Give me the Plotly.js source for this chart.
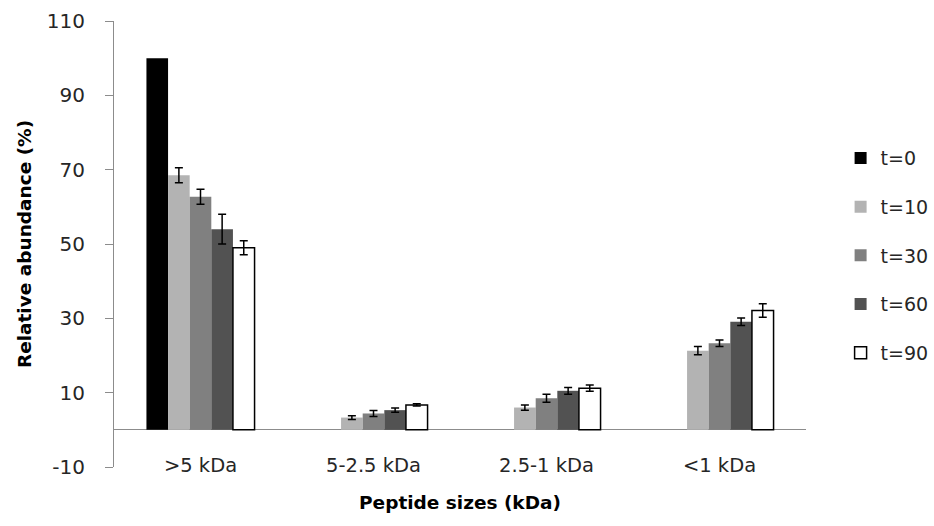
<!DOCTYPE html>
<html>
<head>
<meta charset="utf-8">
<script src="https://cdn.plot.ly/plotly-3.0.1.min.js"></script>
<style>
  html, body { margin: 0; padding: 0; background: #fff; }
  #chart { width: 934px; height: 526px; }
</style>
</head>
<body>
<div id="chart"></div>
<script>
// Peptide size classes on the category axis
const categories = ['>5 kDa', '5-2.5 kDa', '2.5-1 kDa', '<1 kDa'];

// Relative abundance (%) at each hydrolysis time, with error values
const t0  = [100, 0, 0, 0];
const t10 = [68.5, 3.3, 6.0, 21.3];
const t30 = [62.7, 4.4, 8.5, 23.3];
const t60 = [54.0, 5.3, 10.5, 29.1];
const t90 = [49.0, 6.7, 11.2, 32.1];

const t10Err = [2.0, 0.5, 0.7, 1.1];
const t30Err = [2.0, 0.8, 1.1, 0.9];
const t60Err = [4.0, 0.6, 0.9, 1.0];
const t90Err = [1.9, 0.3, 0.85, 1.8];

const seriesNames = ['t=0', 't=10', 't=30', 't=60', 't=90'];

// Value-axis ticks, written with a plain hyphen for the negative one
const yTickVals = [-10, 10, 30, 50, 70, 90, 110];
const yTickText = ['-10', '10', '30', '50', '70', '90', '110'];

const FONT = '"DejaVu Sans", Verdana, sans-serif';
const AXIS_GRAY = '#8c8c8c';
const TEXT = '#262626';

function errBar(arr) {
  return { type: 'data', array: arr, visible: true, color: '#000', thickness: 1.5, width: 4 };
}

const traces = [
  { y: t0,  name: seriesNames[0], marker: { color: '#000000', line: { width: 0 } } },
  { y: t10, name: seriesNames[1], marker: { color: '#b3b3b3', line: { width: 0 } }, error_y: errBar(t10Err) },
  { y: t30, name: seriesNames[2], marker: { color: '#808080', line: { width: 0 } }, error_y: errBar(t30Err) },
  { y: t60, name: seriesNames[3], marker: { color: '#525252', line: { width: 0 } }, error_y: errBar(t60Err) },
  { y: t90, name: seriesNames[4], marker: { color: '#ffffff', line: { width: 1.5, color: '#000' } }, error_y: errBar(t90Err) }
].map((t, i) => Object.assign({
  type: 'bar',
  x: categories,
  legendgroup: 'g' + i,
  hoverinfo: 'skip'
}, t));

const layout = {
  width: 934,
  height: 526,
  paper_bgcolor: '#ffffff',
  plot_bgcolor: '#ffffff',
  font: { family: FONT, color: TEXT, size: 18 },
  margin: { l: 114, r: 128, t: 21, b: 59, autoexpand: false },
  barmode: 'group',
  bargap: 0.375,
  bargroupgap: 0,
  showlegend: true,
  legend: {
    x: 1.05,
    xanchor: 'left',
    y: 0.474,
    yanchor: 'middle',
    traceorder: 'grouped',
    tracegroupgap: 21,
    font: { family: FONT, size: 19, color: TEXT },
    bgcolor: 'rgba(0,0,0,0)'
  },
  xaxis: {
    type: 'category',
    anchor: 'free',
    position: 0.034,
    showline: false,
    ticks: '',
    showgrid: false,
    zeroline: false,
    tickfont: { family: FONT, size: 19.5, color: TEXT },
    title: {
      text: '<b>Peptide sizes (kDa)</b>',
      font: { family: FONT, size: 18.5, color: '#000' },
      standoff: 19
    }
  },
  yaxis: {
    range: [-10, 110],
    tickmode: 'array',
    tickvals: yTickVals,
    ticktext: yTickText,
    showline: true,
    linecolor: AXIS_GRAY,
    linewidth: 1,
    ticks: 'outside',
    ticklen: 8,
    tickcolor: AXIS_GRAY,
    tickwidth: 1,
    ticklabelstandoff: 16,
    showgrid: false,
    zeroline: true,
    zerolinecolor: AXIS_GRAY,
    zerolinewidth: 1,
    tickfont: { family: FONT, size: 20, color: TEXT },
    title: {
      text: '<b>Relative abundance (%)</b>',
      font: { family: FONT, size: 18.5, color: '#000' },
      standoff: 10
    }
  }
};

Plotly.newPlot('chart', traces, layout, { staticPlot: true, displayModeBar: false });
</script>
</body>
</html>
